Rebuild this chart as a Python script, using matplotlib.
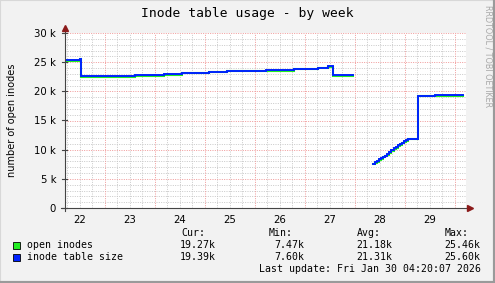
import numpy as np
import matplotlib
matplotlib.use('Agg')
import matplotlib.pyplot as plt
from matplotlib.lines import Line2D

# hours since Jan 22 00:00
hours = [4.8, 12.0, 12.5, 38.4, 52.3, 61.0, 73.9, 82.6, 101.3, 114.7, 126.2,
         131.0, 133.4, 142.9, 143.0,
         152.5, 153.5, 154.5, 155.5, 156.5, 157.5, 158.5, 159.5, 160.5,
         161.5, 162.5, 163.5, 164.5, 165.5, 166.5, 167.5, 168.5, 169.5,
         174.2, 182.4, 195.8]

# inode table size (k)
table_size = [25.4, 25.6, 22.55, 22.8, 23.0, 23.2, 23.4, 23.55, 23.7, 23.9, 24.05,
              24.3, 22.8, 22.8, np.nan,
              7.6, 7.85, 8.1, 8.4, 8.6, 8.8, 9.0, 9.3, 9.6,
              9.95, 10.25, 10.5, 10.75, 11.0, 11.2, 11.45, 11.65, 11.9,
              19.25, 19.39, 19.39]

# open inodes (k)
open_inodes = [25.27, 25.46, 22.42, 22.67, 22.87, 23.07, 23.27, 23.42, 23.57, 23.77, 23.92,
               24.17, 22.67, 22.67, np.nan,
               7.47, 7.72, 7.97, 8.27, 8.47, 8.67, 8.87, 9.17, 9.47,
               9.82, 10.12, 10.37, 10.62, 10.87, 11.07, 11.32, 11.52, 11.77,
               19.12, 19.27, 19.27]

day_labels = ['22', '23', '24', '25', '26', '27', '28', '29']
y_ticks = [0, 5, 10, 15, 20, 25, 30]
y_tick_labels = ['0', '5 k', '10 k', '15 k', '20 k', '25 k', '30 k']

legend_names = ['open inodes', 'inode table size']
legend_cur = ['19.27k', '19.39k']
legend_min = ['7.47k', '7.60k']
legend_avg = ['21.18k', '21.31k']
legend_max = ['25.46k', '25.60k']

GREEN = '#22ee22'
BLUE = '#0022ff'
W, H = 495, 283

fig = plt.figure(figsize=(W / 100, H / 100), dpi=100)
fig.patch.set_facecolor('#f2f2f2')

# plot area in pixels
x0, x1, y0, y1 = 64.5, 466, 33, 208
ax = fig.add_axes([x0 / W, 1 - y1 / H, (x1 - x0) / W, (y1 - y0) / H])
ax.set_facecolor('white')

xmin, xmax = 4.56, 197.3
ax.set_xlim(xmin, xmax)
ax.set_ylim(0, 30)

# grid
dots = (0, (1, 1.4))
for h in np.arange(6, 198, 6):
    if h % 24 == 0:
        continue
    ax.axvline(h, color='#c8c8c8', lw=0.7, ls=dots, zorder=0)
for v in range(1, 30):
    if v % 5 == 0:
        continue
    ax.axhline(v, color='#c8c8c8', lw=0.7, ls=dots, zorder=0)
for d in range(1, 9):
    ax.axvline(d * 24, color='#f09898', lw=0.7, ls=dots, zorder=0)
for v in y_ticks[1:]:
    ax.axhline(v, color='#f09898', lw=0.7, ls=dots, zorder=0)

ax.plot(hours, open_inodes, color=GREEN, lw=1.5, drawstyle='steps-post', zorder=3,
        solid_joinstyle='miter')
ax.plot(hours, table_size, color=BLUE, lw=1.4, drawstyle='steps-post',
        zorder=4, solid_joinstyle='miter')

for s in ax.spines.values():
    s.set_visible(False)

ax.set_yticks(y_ticks)
ax.set_yticklabels(y_tick_labels)
ax.set_xticks([12 + 24 * i for i in range(len(day_labels))])
ax.set_xticklabels(day_labels)
ax.tick_params(axis='both', length=0, labelsize=7.3, colors='black')
ax.tick_params(axis='y', pad=6)
ax.tick_params(axis='x', pad=5)

# axis lines with arrows
axis_col = '#444444'
arrow_col = '#8b1a1a'
fig.add_artist(Line2D([x0 / W, x0 / W], [1 - 211 / H, 1 - 27 / H], color=axis_col, lw=0.8))
fig.add_artist(Line2D([61 / W, 470 / W], [1 - y1 / H, 1 - y1 / H], color=axis_col, lw=0.8))
fig.add_artist(Line2D([x0 / W], [1 - 28 / H], marker='^', ms=4, color=arrow_col, lw=0))
fig.add_artist(Line2D([470 / W], [1 - y1 / H], marker='>', ms=4, color=arrow_col, lw=0))
for v in y_ticks:
    yy = 1 - (y1 - v / 30 * (y1 - y0)) / H
    fig.add_artist(Line2D([61.5 / W, 67 / W], [yy, yy], color=axis_col, lw=0.8))

# title and labels
mono = 'DejaVu Sans Mono'
fig.text(247 / W, 1 - 13 / H, 'Inode table usage - by week', ha='center', va='center',
         family=mono, fontsize=9.4)
fig.text(12 / W, 1 - 120 / H, 'number of open inodes', rotation=90, ha='center',
         va='center', fontsize=7)
fig.text(488 / W, 1 - 5 / H, 'RRDTOOL / TOBI OETIKER', rotation=-90, ha='center',
         va='top', fontsize=5.8, color='#a8a8a8')

# legend
fs = 7.1
for col_x, head in zip([181, 269, 357, 445], ['Cur:', 'Min:', 'Avg:', 'Max:']):
    fig.text(col_x / W, 1 - 233 / H, head, family=mono, fontsize=fs, va='center')
colors = [GREEN, BLUE]
for i, name in enumerate(legend_names):
    yy = 1 - (245 + 12 * i) / H
    fig.patches.append(plt.Rectangle((13 / W, yy - 3.5 / H), 7 / W, 7 / H, transform=fig.transFigure,
                                     facecolor=colors[i], edgecolor='black', lw=0.6))
    fig.text(27 / W, yy, name, family=mono, fontsize=fs, va='center')
    for col_x, val in zip([216, 304, 392, 480],
                          [legend_cur[i], legend_min[i], legend_avg[i], legend_max[i]]):
        fig.text(col_x / W, yy, val, family=mono, fontsize=fs, va='center', ha='right')
fig.text(481 / W, 1 - 269 / H, 'Last update: Fri Jan 30 04:20:07 2026', family=mono,
         fontsize=fs, va='center', ha='right')

# frame
fig.add_artist(Line2D([0, 0], [0, 1], color='#d8d8d8', lw=1.5))
fig.add_artist(Line2D([0, 1], [1, 1], color='#d8d8d8', lw=1.5))
fig.add_artist(Line2D([1, 1], [0, 1], color='#9a9a9a', lw=3))
fig.add_artist(Line2D([0, 1], [0, 0], color='#9a9a9a', lw=3))

fig.savefig('out.png', dpi=100, facecolor=fig.get_facecolor())
